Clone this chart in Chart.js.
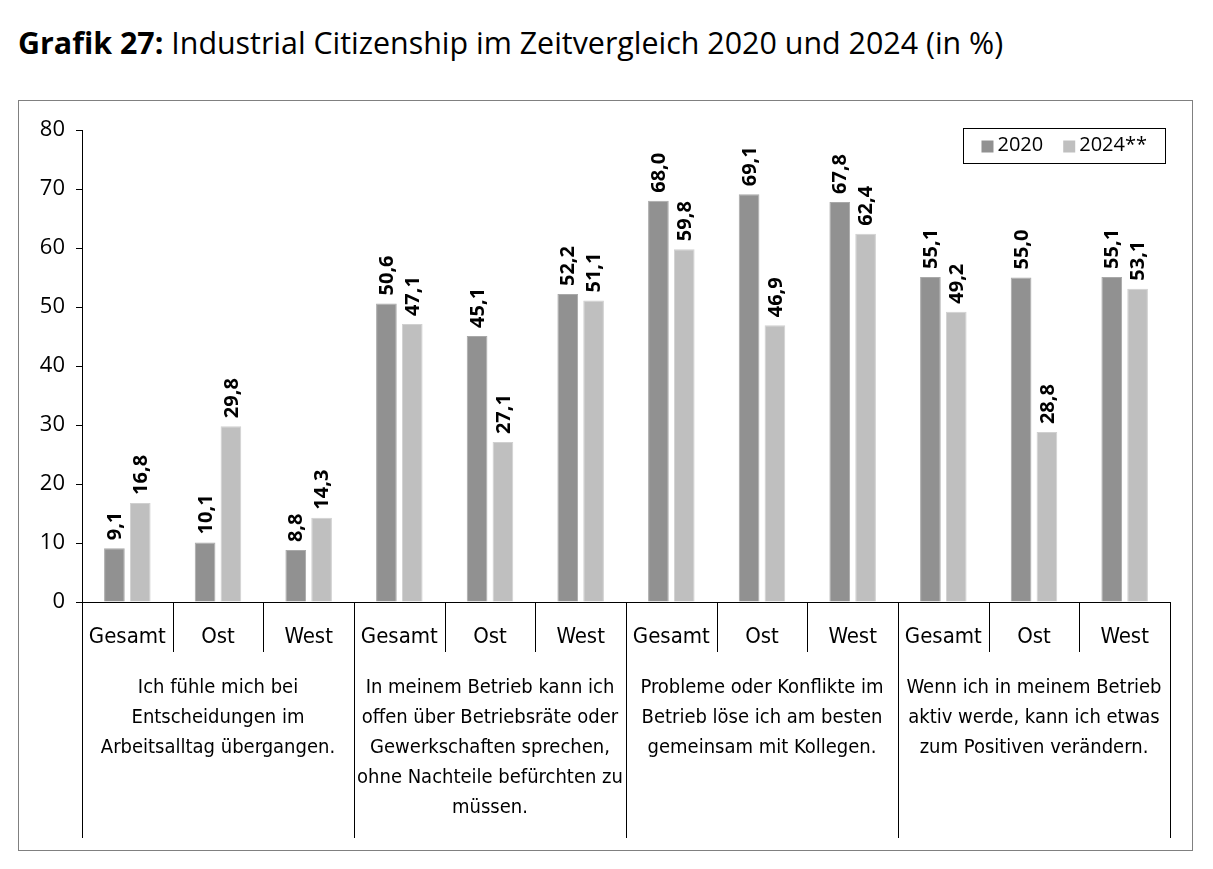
<!DOCTYPE html>
<html lang="de">
<head>
<meta charset="UTF-8" />
<title>Grafik 27</title>
<script src="https://cdn.jsdelivr.net/npm/chart.js"></script>
<style>
  body{margin:0;background:#fff;width:1213px;height:869px;position:relative;font-family:"Open Sans",sans-serif}
  h1{position:absolute;left:18px;top:28px;margin:0;font-size:30.4px;line-height:30px;font-weight:400;color:#000}
  h1 b{font-weight:700}
  .box{position:absolute;left:18px;top:100px;width:1173px;height:749px;border:1px solid #808080}
  canvas{display:block}
</style>
</head>
<body>
<h1><b>Grafik 27:</b> Industrial Citizenship im Zeitvergleich 2020 und 2024 (in %)</h1>
<div class="box"><canvas id="c" width="1173" height="749"></canvas></div>
<script>
const regions = ['Gesamt','Ost','West','Gesamt','Ost','West','Gesamt','Ost','West','Gesamt','Ost','West'];
const groups = [
  ['Ich fühle mich bei','Entscheidungen im','Arbeitsalltag übergangen.'],
  ['In meinem Betrieb kann ich','offen über Betriebsräte oder','Gewerkschaften sprechen,','ohne Nachteile befürchten zu','müssen.'],
  ['Probleme oder Konflikte im','Betrieb löse ich am besten','gemeinsam mit Kollegen.'],
  ['Wenn ich in meinem Betrieb','aktiv werde, kann ich etwas','zum Positiven verändern.']
];
const v2020 = [9.1,10.1,8.8,50.6,45.1,52.2,68.0,69.1,67.8,55.1,55.0,55.1];
const v2024 = [16.8,29.8,14.3,47.1,27.1,51.1,59.8,46.9,62.4,49.2,28.8,53.1];
const yTicks = [0,10,20,30,40,50,60,70,80];

const narrow = '"Liberation Sans Narrow","DejaVu Sans Condensed",sans-serif';

const valueLabels = {
  id:'valueLabels',
  afterDatasetsDraw(chart){
    const ctx = chart.ctx;
    ctx.save();
    ctx.font = 'bold 20px "Open Sans",sans-serif';
    ctx.fillStyle = '#000';
    ctx.textAlign = 'left';
    ctx.textBaseline = 'middle';
    chart.data.datasets.forEach((ds,di)=>{
      chart.getDatasetMeta(di).data.forEach((bar,i)=>{
        ctx.save();
        ctx.translate(bar.x + 1, bar.y - 8);
        ctx.rotate(-Math.PI/2);
        ctx.fillText(ds.data[i].toFixed(1).replace('.',','), 0, 0);
        ctx.restore();
      });
    });
    ctx.restore();
  }
};

// two-level x axis + boxed legend inside the plot
const groupAxis = {
  id:'groupAxis',
  afterDraw(chart){
    const ctx = chart.ctx, x = chart.scales.x, area = chart.chartArea;
    const n = regions.length, w = (area.right - area.left) / n;
    ctx.save();
    ctx.strokeStyle = '#000';
    ctx.lineWidth = 1;
    for(let i=0;i<=n;i++){
      const px = Math.round(i < n ? x.getPixelForValue(i) - w/2 : x.getPixelForValue(n-1) + w/2) + 0.5;
      ctx.beginPath();
      ctx.moveTo(px, area.bottom);
      ctx.lineTo(px, i % 3 === 0 ? chart.height - 12 : area.bottom + 50);
      ctx.stroke();
    }
    ctx.font = '20px ' + narrow;
    ctx.fillStyle = '#000';
    ctx.textAlign = 'center';
    ctx.textBaseline = 'middle';
    groups.forEach((lines,g)=>{
      const cx = (x.getPixelForValue(g*3) + x.getPixelForValue(g*3+2)) / 2;
      lines.forEach((t,k)=> ctx.fillText(t, cx, area.bottom + 86 + k*30));
    });

    // legend
    ctx.font = '20px "Open Sans",sans-serif';
    ctx.textAlign = 'left';
    const items = chart.data.datasets.map(d=>({t:d.label,c:d.backgroundColor,w:ctx.measureText(d.label).width}));
    const box = 12, gapIn = 4, gapOut = 20, padX = 18;
    let total = padX*2 + items.reduce((s,it)=>s+box+gapIn+it.w,0) + gapOut*(items.length-1);
    const right = area.right - 5, top = area.top - 2, h = 35;
    let lx = right - total + padX;
    ctx.strokeRect(Math.round(right-total)+0.5, Math.round(top)+0.5, Math.round(total), h);
    items.forEach(it=>{
      ctx.fillStyle = it.c;
      ctx.fillRect(lx, top + h/2 - box/2 + 1, box, box);
      ctx.fillStyle = '#000';
      ctx.fillText(it.t, lx + box + gapIn, top + h/2);
      lx += box + gapIn + it.w + gapOut;
    });
    ctx.restore();
  }
};

new Chart(document.getElementById('c'),{
  type:'bar',
  data:{
    labels:regions,
    datasets:[
      {label:'2020',data:v2020,backgroundColor:'#919191',borderColor:'#a9a9a9',borderWidth:1,
       barPercentage:0.8,categoryPercentage:0.57},
      {label:'2024**',data:v2024,backgroundColor:'#bfbfbf',borderColor:'#d0d0d0',borderWidth:1,
       barPercentage:0.8,categoryPercentage:0.57}
    ]
  },
  options:{
    responsive:false,
    animation:false,
    layout:{padding:{top:29,right:22,left:0,bottom:0}},
    plugins:{
      title:{display:false},
      tooltip:{enabled:false},
      legend:{display:false}
    },
    scales:{
      x:{
        grid:{display:false},
        border:{display:true,color:'#000'},
        ticks:{color:'#000',font:{size:22,family:narrow},padding:14,maxRotation:0,autoSkip:false},
        afterFit(s){s.height = 248;}
      },
      y:{
        min:0,max:80,
        afterBuildTicks(s){s.ticks = yTicks.map(v=>({value:v}));},
        afterFit(s){s.width = 63;},
        grid:{drawOnChartArea:false,drawTicks:true,tickLength:6,color:'#000'},
        border:{display:true,color:'#000'},
        ticks:{color:'#000',font:{size:22,family:'"Open Sans",sans-serif'},padding:11}
      }
    }
  },
  plugins:[valueLabels,groupAxis]
});
</script>
</body>
</html>
